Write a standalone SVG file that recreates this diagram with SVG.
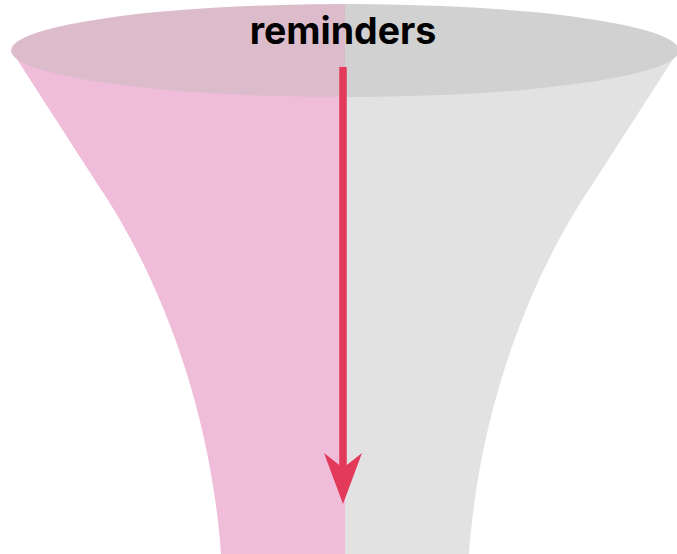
<svg xmlns="http://www.w3.org/2000/svg" width="677" height="554" viewBox="0 0 677 554">
  <style>
    .pinkBody { fill: #efbcda; }
    .grayBody { fill: #e2e2e2; }
    .pinkTop { fill: #dcbccb; }
    .grayTop { fill: #d1d1d1; }
    .label { font-family: Inter, "Liberation Sans", sans-serif; font-weight: 700; font-size: 37.5px; fill: #000000; text-anchor: middle; }
    .arrowLine { stroke: #e3395a; stroke-width: 7.5; fill: none; }
    .arrowHead { fill: #e3395a; }
  </style>
  <rect width="677" height="554" fill="#ffffff"/>
  <g id="funnel-left">
    <path class="pinkBody" d="M345,40 L11,50 L100,188 C155,270 210,400 221,554 L345,554 Z"/>
    <path class="pinkTop" d="M345,4 A334 46.5 0 0 0 345 97 Z"/>
  </g>
  <g id="funnel-right">
    <path class="grayBody" d="M345,40 L679,50 L590,188 C535,270 480,400 469,554 L345,554 Z"/>
    <path class="grayTop" d="M345,4 A334 46.5 0 0 1 345 97 Z"/>
  </g>
  <g id="title">
    <text class="label" x="343" y="43.5">reminders</text>
  </g>
  <g id="connectors">
    <line class="arrowLine" x1="343" y1="67" x2="343" y2="472"/>
    <path class="arrowHead" d="M343,504 L324,453 L343,468 L362,453 Z"/>
  </g>
</svg>
